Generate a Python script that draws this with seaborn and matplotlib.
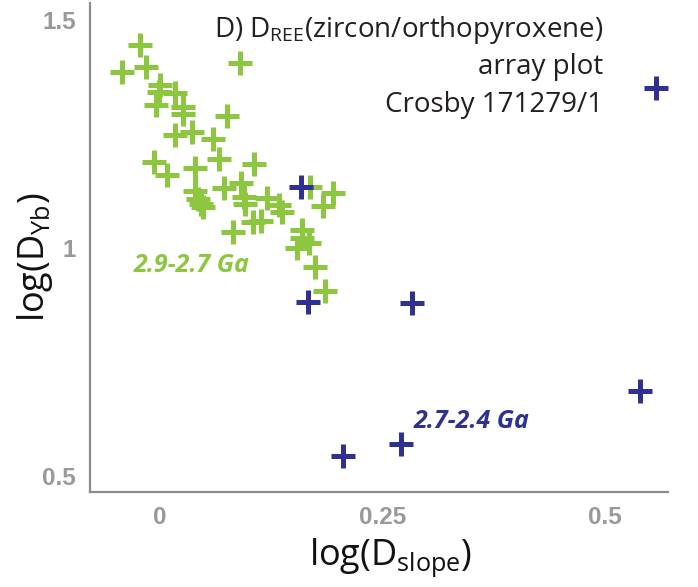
import matplotlib
matplotlib.use("Agg")
import matplotlib.pyplot as plt
import seaborn as sns
import pandas as pd

# Zircon/orthopyroxene partition-coefficient array, Crosby 171279/1
older_slope = [-0.022, -0.043, -0.016, 0.090, 0.000, -0.001, -0.005, 0.017,
               0.026, 0.026, 0.017, 0.036, 0.059, 0.075, -0.007, 0.008,
               0.066, 0.106, 0.039, 0.039, 0.043, 0.046, 0.048, 0.072,
               0.091, 0.094, 0.096, 0.120, 0.105, 0.114, 0.134, 0.137,
               0.082, 0.168, 0.194, 0.183, 0.160, 0.154, 0.167, 0.160,
               0.174, 0.185]
older_yb = [1.447, 1.387, 1.398, 1.407, 1.358, 1.343, 1.315, 1.340,
            1.310, 1.295, 1.248, 1.255, 1.240, 1.290, 1.189, 1.160,
            1.197, 1.186, 1.176, 1.126, 1.108, 1.097, 1.091, 1.133,
            1.143, 1.113, 1.097, 1.110, 1.058, 1.060, 1.096, 1.079,
            1.036, 1.135, 1.121, 1.093, 1.040, 1.001, 1.011, 1.023,
            0.960, 0.907]

younger_slope = [0.557, 0.158, 0.166, 0.283, 0.539, 0.271, 0.206]
younger_yb = [1.351, 1.134, 0.882, 0.880, 0.687, 0.571, 0.545]

x_ticks = [0, 0.25, 0.5]
x_tick_labels = ["0", "0.25", "0.5"]
y_ticks = [0.5, 1.0, 1.5]
y_tick_labels = ["0.5", "1", "1.5"]

green = "#8DC63F"
blue = "#2E3192"

older = pd.DataFrame({"slope": older_slope, "yb": older_yb})
younger = pd.DataFrame({"slope": younger_slope, "yb": younger_yb})

sns.set_style("white")
plt.rcParams["font.family"] = ["Open Sans", "DejaVu Sans"]
plt.rcParams["mathtext.fontset"] = "custom"
plt.rcParams["mathtext.rm"] = "Open Sans"

fig = plt.figure(figsize=(6.98, 5.87), dpi=100)
ax = fig.add_axes([0.1289, 0.1618, 0.8281, 0.8330])

sns.scatterplot(data=older, x="slope", y="yb", color=green, marker="+",
                s=300, linewidth=3.6, ax=ax, zorder=3)
sns.scatterplot(data=younger, x="slope", y="yb", color=blue, marker="+",
                s=300, linewidth=3.6, ax=ax, zorder=4)

ax.set_xlim(-0.0787, 0.5708)
ax.set_ylim(0.4656, 1.538)
ax.set_xticks(x_ticks, x_tick_labels)
ax.set_yticks(y_ticks, y_tick_labels)

sns.despine(ax=ax)
for side in ("left", "bottom"):
    ax.spines[side].set_color("#8c8c8c")
    ax.spines[side].set_linewidth(1.6)

ax.tick_params(length=6, width=1.2, color="#8c8c8c", pad=4,
               labelsize=17.5, labelcolor="#999999")
for lab in ax.get_xticklabels() + ax.get_yticklabels():
    lab.set_fontweight("bold")
    lab.set_family(["Liberation Sans", "DejaVu Sans"])

ax.set_xlabel(r"log(D$_{\mathregular{slope}}$)", fontsize=26, color="#111111")
ax.set_ylabel(r"log(D$_{\mathregular{Yb}}$)", fontsize=26, color="#111111")
ax.xaxis.set_label_coords(0.52, -0.09)
ax.yaxis.set_label_coords(-0.06, 0.48)

# Panel title, right aligned in the upper corner
title_lines = [r"D) D$_{\mathregular{REE}}$(zircon/orthopyroxene)",
               "array plot", "Crosby 171279/1"]
for line, yfrac in zip(title_lines, [0.930, 0.855, 0.777]):
    ax.text(0.8875, yfrac, line, transform=ax.transAxes, ha="right",
            va="baseline", fontsize=20, color="#231f20")

# Age-group labels
label_font = ["Open Sans", "DejaVu Sans"]
ax.text(-0.030, 0.9487, "2.9-2.7 Ga", color=green, fontsize=18,
        fontweight="bold", fontstyle="italic", family=label_font,
        ha="left", va="baseline")
ax.text(0.285, 0.606, "2.7-2.4 Ga", color=blue, fontsize=18,
        fontweight="bold", fontstyle="italic", family=label_font,
        ha="left", va="baseline")

fig.savefig("out.png", dpi=100)
